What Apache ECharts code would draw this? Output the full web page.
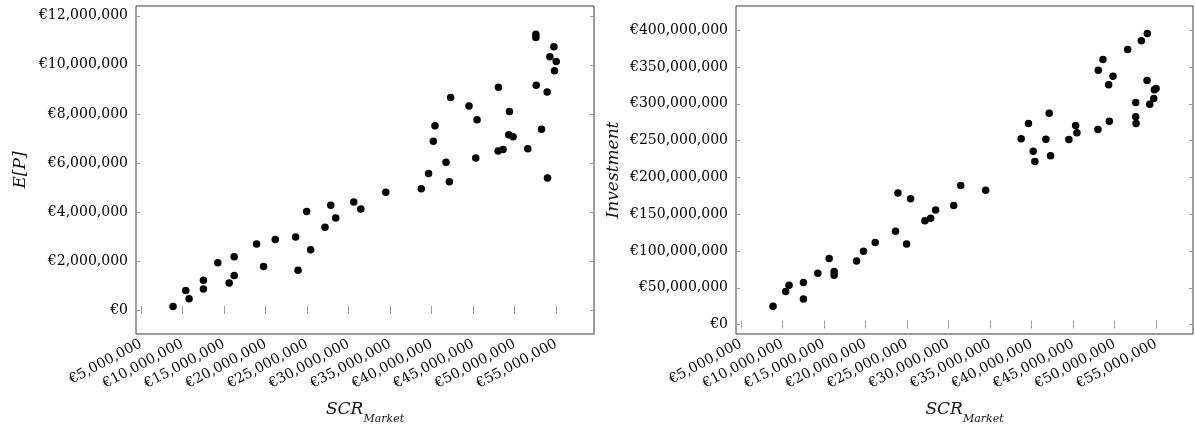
<!DOCTYPE html>
<html>
<head>
<meta charset="utf-8">
<script src="https://cdn.jsdelivr.net/npm/echarts@6.0.0/dist/echarts.min.js"></script>
<style>
  html, body { margin: 0; padding: 0; background: #fff; }
  #chart { width: 1195px; height: 430px; }
</style>
</head>
<body>
<div id="chart"></div>
<script>
// SCR_Market (shared x for both panels)
const scrMarket = [
  8860000, 10390000, 10790000, 12520000, 12520000, 14250000, 15620000, 16220000, 16220000, 18920000,
  19760000, 21170000, 23620000, 23910000, 24950000, 25430000, 27160000, 27850000, 28450000, 30620000,
  31470000, 34480000, 38750000, 39630000, 40200000, 40400000, 41730000, 42130000, 42290000, 44500000,
  45310000, 45470000, 48000000, 48040000, 48600000, 49290000, 49370000, 49810000, 51580000, 52550000,
  52550000, 52590000, 53230000, 53910000, 53950000, 54240000, 54720000, 54800000, 55000000
]

// E[P]
const expectedProfit = [
  140000, 790000, 460000, 1210000, 860000, 1930000, 1100000, 1410000, 2170000, 2690000,
  1770000, 2880000, 2980000, 1620000, 4020000, 2460000, 3370000, 4270000, 3750000, 4400000,
  4120000, 4800000, 4950000, 5570000, 6880000, 7520000, 6030000, 5230000, 8670000, 8320000,
  6200000, 7760000, 6480000, 9090000, 6550000, 7150000, 8100000, 7070000, 6580000, 11250000,
  11120000, 9170000, 7370000, 8890000, 5380000, 10330000, 10740000, 9760000, 10140000
]

// Investment
const investment = [
  24900000, 44800000, 53500000, 57100000, 34900000, 69800000, 89700000, 72000000, 67000000, 86500000,
  99700000, 111400000, 126800000, 178900000, 109600000, 170800000, 140900000, 144500000, 155800000, 161700000,
  188900000, 182600000, 252300000, 273200000, 235600000, 221500000, 251900000, 287200000, 229200000, 251400000,
  270400000, 260500000, 265000000, 345600000, 360100000, 325700000, 276300000, 337500000, 373700000, 282200000,
  301700000, 273200000, 385500000, 331600000, 395500000, 299400000, 307100000, 318900000, 320700000
]

const xTicks = [5e6, 10e6, 15e6, 20e6, 25e6, 30e6, 35e6, 40e6, 45e6, 50e6, 55e6]
const epTicks = [0, 2e6, 4e6, 6e6, 8e6, 10e6, 12e6]
const invTicks = [0, 50e6, 100e6, 150e6, 200e6, 250e6, 300e6, 350e6, 400e6]

const FONT = 'DejaVu Serif'
const euro = v => '€' + Math.round(v).toLocaleString('en-US')

function tickStyle(ticks) {
  return {
    axisLine: { show: false },
    axisTick: { show: true, inside: true, length: 4, customValues: ticks, lineStyle: { color: '#9a9a9a' } },
    splitLine: { show: false }
  }
}

function xAxes(gridIndex, min, max) {
  return [
    {
      type: 'value', gridIndex, min, max, position: 'bottom',
      ...tickStyle(xTicks),
      axisLabel: {
        customValues: xTicks, rotate: 28, margin: 9,
        fontFamily: FONT, fontSize: 14, color: '#000',
        formatter: euro
      },
      name: '{a|SCR}{b|Market}',
      nameLocation: 'middle',
      nameGap: 67,
      nameTextStyle: {
        rich: {
          a: { fontFamily: FONT, fontStyle: 'italic', fontSize: 17, lineHeight: 22, verticalAlign: 'top', color: '#111' },
          b: { fontFamily: FONT, fontStyle: 'italic', fontSize: 11, lineHeight: 11, verticalAlign: 'top', padding: [13, 0, 0, 0], color: '#111' }
        }
      }
    },
    {
      type: 'value', gridIndex, min, max, position: 'top',
      ...tickStyle(xTicks),
      axisLabel: { show: false }
    }
  ]
}

function yAxes(gridIndex, min, max, ticks, name, gap) {
  return [
    {
      type: 'value', gridIndex, min, max, position: 'left',
      ...tickStyle(ticks),
      axisLabel: { customValues: ticks, margin: 8, fontFamily: FONT, fontSize: 14, color: '#000', formatter: euro },
      name,
      nameLocation: 'middle',
      nameGap: gap,
      nameRotate: 90,
      nameTextStyle: { fontFamily: FONT, fontStyle: 'italic', fontSize: 17, color: '#111' }
    },
    {
      type: 'value', gridIndex, min, max, position: 'right',
      ...tickStyle(ticks),
      axisLabel: { show: false }
    }
  ]
}

const chart = echarts.init(document.getElementById('chart'), null, { renderer: 'canvas' })

chart.setOption({
  animation: false,
  backgroundColor: '#fff',
  grid: [
    { left: 136, top: 6, width: 458, height: 328, show: true, borderColor: '#3a3a3a', borderWidth: 1, backgroundColor: 'transparent' },
    { left: 736, top: 6, width: 457, height: 328, show: true, borderColor: '#3a3a3a', borderWidth: 1, backgroundColor: 'transparent' }
  ],
  xAxis: [
    ...xAxes(0, 4.4e6, 59.55e6),
    ...xAxes(1, 4.4e6, 59.45e6)
  ],
  yAxis: [
    ...yAxes(0, -0.98e6, 12.4e6, epTicks, 'E[P]', 107),
    ...yAxes(1, -12.8e6, 432.8e6, invTicks, 'Investment', 114)
  ],
  series: [
    {
      type: 'scatter',
      xAxisIndex: 0, yAxisIndex: 0,
      symbolSize: 7.5,
      itemStyle: { color: '#000', opacity: 1 },
      data: scrMarket.map((x, i) => [x, expectedProfit[i]])
    },
    {
      type: 'scatter',
      xAxisIndex: 2, yAxisIndex: 2,
      symbolSize: 7.5,
      itemStyle: { color: '#000', opacity: 1 },
      data: scrMarket.map((x, i) => [x, investment[i]])
    }
  ]
})
</script>
</body>
</html>
